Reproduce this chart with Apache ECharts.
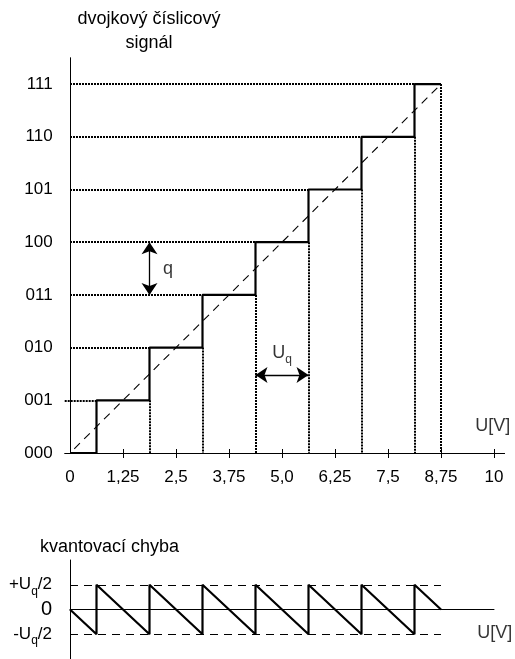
<!DOCTYPE html>
<html><head><meta charset="utf-8">
<script src="https://cdn.jsdelivr.net/npm/echarts@6/dist/echarts.min.js"></script>
<style>html,body{margin:0;padding:0;background:#fff}#c{width:515px;height:659px}</style>
</head><body><div id="c"></div>
<script>
// ---- data ----
const codeLabels = ['000','001','010','011','100','101','110','111'];
const codeLevels = [0,1,2,3,4,5,6,7];
const xTickValues = [0,1.25,2.5,3.75,5,6.25,7.5,8.75,10];
const xTickLabels = ['0','1,25','2,5','3,75','5,0','6,25','7,5','8,75','10'];
// staircase (transfer characteristic)
const stepX = [0,0.625,1.875,3.125,4.375,5.625,6.875,8.125,8.75];
const stepY = [0,1,2,3,4,5,6,7,7];
// ideal characteristic (dashed diagonal)
const idealX = [0.1,8.75];
const idealY = [0.08,7];
// quantization error sawtooth
const errX = [0,0.625,0.625,1.875,1.875,3.125,3.125,4.375,4.375,5.625,5.625,6.875,6.875,8.125,8.125,8.75];
const errY = [0,-0.5,0.5,-0.5,0.5,-0.5,0.5,-0.5,0.5,-0.5,0.5,-0.5,0.5,-0.5,0.5,0];
const errBounds = [-0.5,0.5];
const errLabels = ['{a|-U}{s|q}{a|/2}','{z|0}','{a|+U}{s|q}{a|/2}'];
const errLabelValues = [-0.5,0,0.5];

const FONT = "'Liberation Sans', Arial, sans-serif";
const black = '#000';

// dotted guides
const hGuides = [];
for (let k = 1; k <= 7; k++) {
  hGuides.push({coords: [[k === 1 ? -0.125 : 0, codeLevels[k]], [stepX[k], codeLevels[k]]]});
}
const vGuides = [];
for (let k = 2; k < stepX.length; k++) {
  vGuides.push({coords: [[stepX[k], stepY[k-1]], [stepX[k], 0]]});
}

const dotted = {color: black, width: 2, type: [2, 1], opacity: 1};

const option = {
  animation: false,
  backgroundColor: '#fff',
  textStyle: {fontFamily: FONT, color: black},
  graphic: [
    {type: 'text', x: 149, y: 19, style: {text: 'dvojkový číslicový', align: 'center', verticalAlign: 'middle', fontSize: 18, fontFamily: FONT, fill: black}},
    {type: 'text', x: 149, y: 43, style: {text: 'signál', align: 'center', verticalAlign: 'middle', fontSize: 18, fontFamily: FONT, fill: black}},
    {type: 'text', x: 40, y: 547, style: {text: 'kvantovací chyba', align: 'left', verticalAlign: 'middle', fontSize: 18, fontFamily: FONT, fill: black}}
  ],
  grid: [
    {left: 64.7, top: 57.75, width: 439.9, height: 395.25},
    {left: 70, top: 560, width: 424, height: 105.4}
  ],
  xAxis: [
    {gridIndex: 0, type: 'value', min: -0.125, max: 10.25,
     axisLine: {show: true, onZero: true, lineStyle: {color: black, width: 1}},
     axisTick: {show: true, customValues: xTickValues.slice(1), length: 5, lineStyle: {color: black}},
     axisLabel: {customValues: xTickValues, formatter: v => xTickLabels[xTickValues.indexOf(v)] || '', margin: 16, fontSize: 17, color: black, fontFamily: FONT},
     splitLine: {show: false}},
    {gridIndex: 0, type: 'value', position: 'bottom', min: -0.125, max: 10.25,
     axisLine: {show: false},
     axisTick: {show: true, inside: true, customValues: xTickValues.slice(1), length: 4, lineStyle: {color: black}},
     axisLabel: {show: false}, splitLine: {show: false}},
    {gridIndex: 1, type: 'value', min: 0, max: 10,
     axisLine: {show: true, onZero: true, lineStyle: {color: black, width: 1}},
     axisTick: {show: false}, axisLabel: {show: false}, splitLine: {show: false}}
  ],
  yAxis: [
    {gridIndex: 0, type: 'value', min: 0, max: 7.5,
     axisLine: {show: true, onZero: true, onZeroAxisIndex: 0, lineStyle: {color: black, width: 1}},
     axisTick: {show: false},
     axisLabel: {customValues: codeLevels, formatter: v => codeLabels[codeLevels.indexOf(v)] || '', margin: 12, fontSize: 17, color: black, fontFamily: FONT},
     splitLine: {show: false}},
    {gridIndex: 1, type: 'value', min: -1, max: 1,
     axisLine: {show: true, onZero: false, lineStyle: {color: black, width: 1}},
     axisTick: {show: false},
     axisLabel: {customValues: errLabelValues, formatter: v => errLabels[errLabelValues.indexOf(v)] || '', margin: 18, color: black,
       rich: {
         a: {fontSize: 17, fontFamily: FONT, color: black},
         s: {fontSize: 12, fontFamily: FONT, color: black, padding: [13, 0, 0, 0]},
         z: {fontSize: 20, fontFamily: FONT, color: black}
       }},
     splitLine: {show: false}}
  ],
  series: [
    {type: 'lines', coordinateSystem: 'cartesian2d', xAxisIndex: 0, yAxisIndex: 0, z: 2,
     lineStyle: dotted, data: hGuides},
    {type: 'lines', coordinateSystem: 'cartesian2d', xAxisIndex: 0, yAxisIndex: 0, z: 2,
     lineStyle: dotted, data: vGuides},
    {type: 'line', xAxisIndex: 0, yAxisIndex: 0, z: 3, symbol: 'none',
     lineStyle: {color: black, width: 1.1, type: [8, 6]},
     data: idealX.map((x, i) => [x, idealY[i]])},
    {type: 'line', xAxisIndex: 0, yAxisIndex: 0, z: 5, symbol: 'none', step: 'end',
     lineStyle: {color: black, width: 2.2},
     data: stepX.map((x, i) => [x, stepY[i]])},
    // q arrow (one quantization level)
    {type: 'lines', coordinateSystem: 'cartesian2d', xAxisIndex: 0, yAxisIndex: 0, z: 6,
     symbol: ['arrow', 'arrow'], symbolSize: 12,
     lineStyle: {color: black, width: 1.3, type: 'solid', opacity: 1},
     data: [{coords: [[stepX[2], codeLevels[3]], [stepX[2], codeLevels[4]]]}]},
    // Uq arrow (one quantization step in volts)
    {type: 'lines', coordinateSystem: 'cartesian2d', xAxisIndex: 0, yAxisIndex: 0, z: 6,
     symbol: ['arrow', 'arrow'], symbolSize: 12,
     lineStyle: {color: black, width: 1.3, type: 'solid', opacity: 1},
     data: [{coords: [[stepX[4], 1.48], [stepX[5], 1.48]]}]},
    // annotation labels
    {type: 'scatter', xAxisIndex: 0, yAxisIndex: 0, symbolSize: 0, z: 7, silent: true, clip: false,
     label: {show: true, position: 'inside', color: black, fontFamily: FONT, fontSize: 18,
       rich: {a: {fontSize: 18, fontFamily: FONT, color: black}, s: {fontSize: 12, fontFamily: FONT, color: black, padding: [14, 0, 0, 0]}}},
     data: [
       {value: [2.31, 3.5], label: {formatter: 'q'}},
       {value: [5.0, 1.9], label: {formatter: '{a|U}{s|q}'}},
       {value: [9.97, 0.51], label: {formatter: 'U[V]'}}
     ]},
    // quantization error
    {type: 'lines', coordinateSystem: 'cartesian2d', xAxisIndex: 2, yAxisIndex: 1, z: 2,
     lineStyle: {color: black, width: 1.1, type: [8, 6], opacity: 1},
     data: errBounds.map(b => ({coords: [[0, b], [stepX[stepX.length - 1], b]]}))},
    {type: 'line', xAxisIndex: 2, yAxisIndex: 1, z: 5, symbol: 'none',
     lineStyle: {color: black, width: 2.2},
     data: errX.map((x, i) => [x, errY[i]])},
    {type: 'scatter', xAxisIndex: 2, yAxisIndex: 1, symbolSize: 0, z: 7, silent: true, clip: false,
     label: {show: true, position: 'inside', color: black, fontFamily: FONT, fontSize: 18, formatter: 'U[V]'},
     data: [[10.02, -0.48]]}
  ]
};
const chart = echarts.init(document.getElementById('c'), null, {renderer: 'canvas'});
chart.setOption(option);
</script>
</body></html>
